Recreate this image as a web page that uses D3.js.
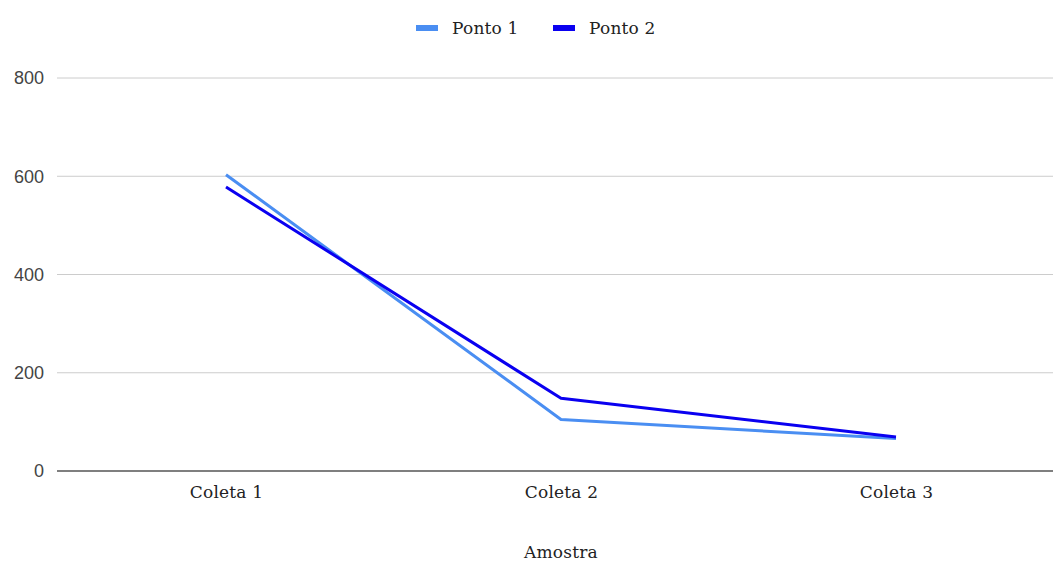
<!DOCTYPE html>
<html>
<head>
<meta charset="utf-8">
<script src="https://cdn.jsdelivr.net/npm/d3@7"></script>
<style>
  body { margin: 0; background: #fff; }
  .serif { font-family: "DejaVu Serif", serif; letter-spacing: 0.2px; }
</style>
</head>
<body>
<svg width="1053" height="564"></svg>
<script>
// dados
const categorias = ["Coleta 1", "Coleta 2", "Coleta 3"];
const ponto1 = [603, 105, 66];
const ponto2 = [578, 148, 69];
const yTicks = [0, 200, 400, 600, 800];
const series = [
  { nome: "Ponto 1", valores: ponto1, cor: "#4a8ef2" },
  { nome: "Ponto 2", valores: ponto2, cor: "#0a00f0" }
];

const svg = d3.select("svg");
const margin = { top: 78, right: 0, bottom: 93, left: 57 };
const width = 1053 - margin.left - margin.right;
const height = 564 - margin.top - margin.bottom;
const g = svg.append("g").attr("transform", "translate(" + margin.left + "," + margin.top + ")");

const x = d3.scalePoint().domain(categorias).range([169, 839]);
const y = d3.scaleLinear().domain([0, 800]).range([height, 0]);

// grade
g.append("g")
  .selectAll("line")
  .data(yTicks.filter(d => d !== 0))
  .join("line")
  .attr("x1", 0).attr("x2", width)
  .attr("y1", d => y(d)).attr("y2", d => y(d))
  .attr("stroke", "#cccccc").attr("stroke-width", 1);

// eixo y
const yAxis = g.append("g").call(d3.axisLeft(y).tickValues(yTicks).tickSize(0).tickPadding(13));
yAxis.select(".domain").remove();
yAxis.selectAll("text")
  .style("font-family", "Liberation Sans, Arial, sans-serif")
  .style("font-size", "18px")
  .attr("fill", "#444");

// linha base
g.append("line")
  .attr("x1", 0).attr("x2", width)
  .attr("y1", y(0)).attr("y2", y(0))
  .attr("stroke", "#555").attr("stroke-width", 1.5);

// eixo x
const xAxis = g.append("g")
  .attr("transform", "translate(0," + height + ")")
  .call(d3.axisBottom(x).tickSize(0).tickPadding(15));
xAxis.select(".domain").remove();
xAxis.selectAll("text")
  .attr("class", "serif")
  .style("font-size", "17px")
  .attr("fill", "#222");

// linhas
const line = d3.line()
  .x((d, i) => x(categorias[i]))
  .y(d => y(d));

g.selectAll(".serie")
  .data(series)
  .join("path")
  .attr("class", "serie")
  .attr("fill", "none")
  .attr("stroke", d => d.cor)
  .attr("stroke-width", 3)
  .attr("stroke-linejoin", "round")
  .attr("d", d => line(d.valores));

// título do eixo x
svg.append("text")
  .attr("class", "serif")
  .attr("x", margin.left + x("Coleta 2"))
  .attr("y", 558)
  .attr("text-anchor", "middle")
  .style("font-size", "17px")
  .attr("fill", "#222")
  .text("Amostra");

// legenda
const legend = svg.append("g").attr("transform", "translate(416,28)");
const offsets = [0, 137];
series.forEach((s, i) => {
  const item = legend.append("g").attr("transform", "translate(" + offsets[i] + ",0)");
  item.append("rect")
    .attr("x", 0).attr("y", -3)
    .attr("width", 22).attr("height", 6)
    .attr("fill", s.cor);
  item.append("text")
    .attr("class", "serif")
    .attr("x", 36).attr("y", 6)
    .style("font-size", "17px")
    .attr("fill", "#222")
    .text(s.nome);
});
</script>
</body>
</html>
